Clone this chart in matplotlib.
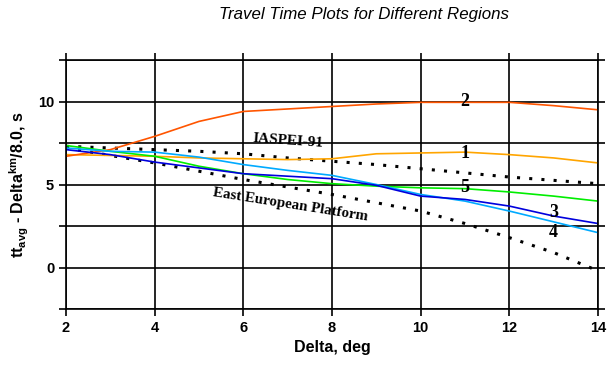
import matplotlib.pyplot as plt
from matplotlib.ticker import MultipleLocator

# Epicentral distance, deg
delta = [2, 3, 4, 5, 6, 7, 8, 9, 10, 11, 12, 13, 14]

# Reduced travel times per region, s
region_1 = [6.8, 6.75, 6.7, 6.6, 6.55, 6.5, 6.55, 6.85, 6.9, 6.95, 6.8, 6.6, 6.3]
region_2 = [6.7, 7.1, 7.9, 8.8, 9.4, 9.55, 9.7, 9.85, 9.95, 9.95, 9.95, 9.75, 9.5]
region_3 = [7.1, 6.8, 6.35, 6.0, 5.65, 5.5, 5.35, 4.95, 4.3, 4.1, 3.7, 3.1, 2.65]
region_4 = [7.2, 7.0, 6.95, 6.65, 6.2, 5.85, 5.55, 5.0, 4.4, 4.0, 3.4, 2.75, 2.1]
region_5 = [7.35, 7.0, 6.7, 6.1, 5.65, 5.3, 5.05, 4.9, 4.8, 4.75, 4.55, 4.3, 4.0]

# Reference models
iaspei = [7.3, 7.2, 7.1, 7.0, 6.85, 6.6, 6.4, 6.2, 5.95, 5.7, 5.45, 5.25, 5.05]
eep = [7.2, 6.75, 6.3, 5.8, 5.3, 4.85, 4.4, 3.9, 3.4, 2.65, 1.8, 0.9, -0.2]

fig = plt.figure(figsize=(6.1, 3.65), dpi=100)
ax = fig.add_axes([66 / 610, 1 - 309 / 365, 532 / 610, 249 / 365])

ax.plot(delta, iaspei, color='black', linestyle=(0, (1, 3)), linewidth=2.2)
ax.plot(delta, eep, color='black', linestyle=(0, (1, 3)), linewidth=2.2)
ax.plot(delta, region_1, color='#ffa500', linewidth=1.2)
ax.plot(delta, region_2, color='#ff5500', linewidth=1.2)
ax.plot(delta, region_5, color='#00ee00', linewidth=1.2)
ax.plot(delta, region_4, color='#00aaff', linewidth=1.2)
ax.plot(delta, region_3, color='#0000dd', linewidth=1.2)

ax.set_xlim(2, 14)
ax.set_ylim(-2.5, 12.5)
ax.xaxis.set_major_locator(MultipleLocator(2))
ax.yaxis.set_major_locator(MultipleLocator(5))
ax.yaxis.set_minor_locator(MultipleLocator(2.5))
ax.grid(True, which='both', color='black', linewidth=1.2)
ax.set_axisbelow(True)
for s in ax.spines.values():
    s.set_linewidth(1.2)
ax.tick_params(which='both', direction='out', length=5, width=1.2,
               top=True, right=True, labelsize=10.5)
for lab in ax.get_xticklabels() + ax.get_yticklabels():
    lab.set_fontfamily('Liberation Sans')
    lab.set_fontweight('bold')

ax.set_xlabel('Delta, deg', family='Liberation Sans', fontweight='bold', fontsize=11.5)
ax.set_ylabel(r'tt$_{\mathregular{avg}}$ - Delta$^{\mathregular{km}}$/8.0, s',
              family='Liberation Sans', fontweight='bold', fontsize=11.5, labelpad=5)
fig.text(364 / 610, 1 - 14 / 365, 'Travel Time Plots for Different Regions',
         family='Liberation Sans', style='italic', fontsize=12.2,
         ha='center', va='center')

serif = dict(family='Liberation Serif', fontweight='bold', ha='center', va='center')
ax.text(7.0, 7.6, 'IASPEI-91', fontsize=11, rotation=-4, **serif)
ax.text(7.05, 3.75, 'East European Platform', fontsize=10.8, rotation=-9, **serif)
ax.text(11.0, 10.0, '2', fontsize=13, **serif)
ax.text(11.0, 6.85, '1', fontsize=13, **serif)
ax.text(11.0, 4.8, '5', fontsize=13, **serif)
ax.text(13.0, 3.33, '3', fontsize=13, **serif)
ax.text(13.0, 2.1, '4', fontsize=13, **serif)

fig.savefig('out.png', dpi=100)
